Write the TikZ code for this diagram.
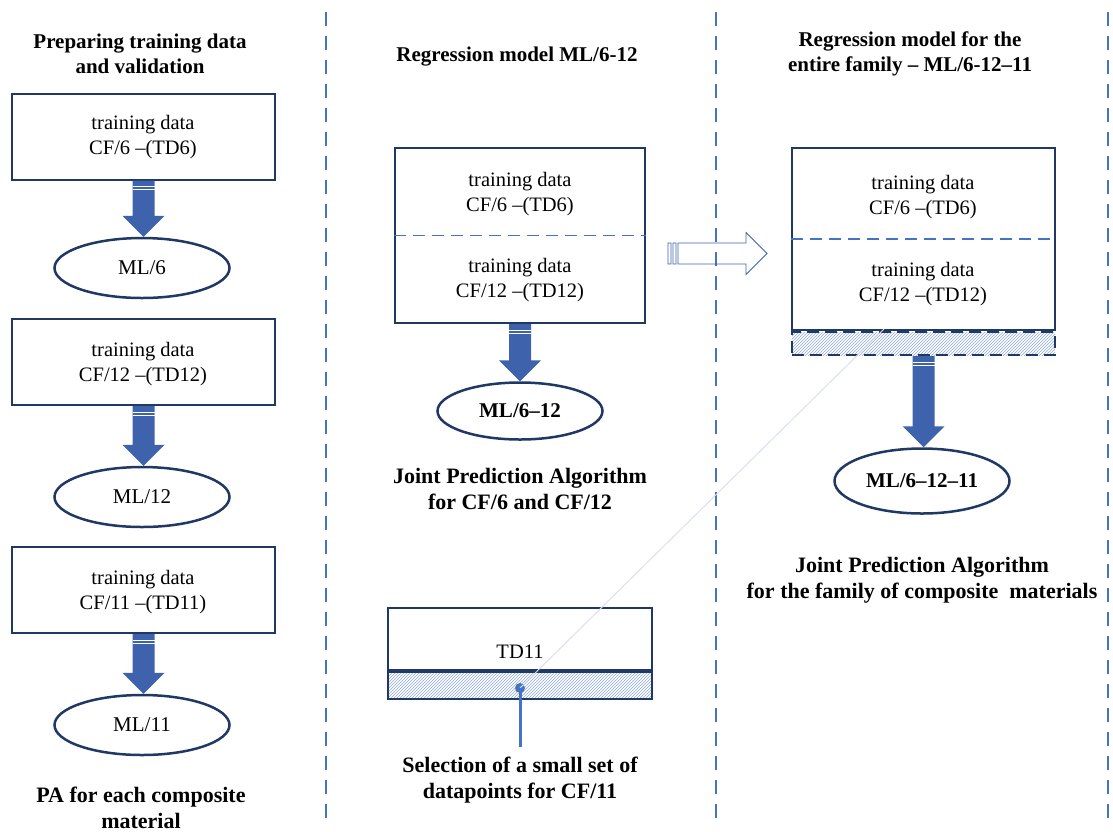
\documentclass[tikz,border=0pt]{standalone}
\usepackage{fontspec}
\setmainfont{Liberation Serif}
\usetikzlibrary{shapes.geometric,patterns,calc}
\definecolor{navy}{RGB}{32,56,100}
\definecolor{arrowblue}{RGB}{63,98,173}
\definecolor{lineblue}{RGB}{68,114,196}
\definecolor{hatchblue}{RGB}{140,168,220}
\definecolor{threadgray}{RGB}{218,224,240}
\tikzstyle{databox}=[draw=navy,line width=2pt,fill=white,minimum width=263,minimum height=86,inner sep=0pt]
\tikzstyle{hatchbox}=[draw=navy,line width=2pt,pattern=north east lines,pattern color=hatchblue,inner sep=0pt]
\tikzstyle{mlnode}=[ellipse,draw=navy,line width=2.5pt,fill=white,minimum width=175,minimum height=60,inner sep=0pt,font=\fontsize{21}{24}\selectfont]
\tikzstyle{bodytxt}=[align=center,inner sep=0pt,font=\fontsize{20.5}{24.5}\selectfont]
\tikzstyle{headtxt}=[align=center,inner sep=0pt,font=\bfseries\fontsize{21}{25}\selectfont]
\tikzstyle{captxt}=[align=center,inner sep=0pt,font=\bfseries\fontsize{22}{25.5}\selectfont]
\tikzstyle{colline}=[lineblue,line width=1.5pt,dash pattern=on 14pt off 10pt]
\tikzstyle{sepline}=[lineblue,line width=1.2pt,dash pattern=on 12pt off 7pt]

% block arrow pointing down, from #1 to #2
\newcommand{\fatarrow}[2]{%
  \fill[arrowblue] let \p1=(#1), \p2=(#2) in
    (\x1-11pt,\y1) -- (\x1+11pt,\y1) -- (\x1+11pt,\y2+21pt) -- (\x1+21pt,\y2+21pt)
    -- (\x1,\y2) -- (\x1-21pt,\y2+21pt) -- (\x1-11pt,\y2+21pt) -- cycle;
  \draw[white,line width=0.6pt] let \p1=(#1) in
    (\x1-11pt,\y1-6pt) -- (\x1+11pt,\y1-6pt) (\x1-11pt,\y1-9pt) -- (\x1+11pt,\y1-9pt);
}
% hollow striped arrow pointing right, from #1 to #2
\newcommand{\hollowarrow}[2]{%
  \draw[arrowblue,line width=0.8pt] let \p1=(#1), \p2=(#2) in
    (\x1+10pt,\y1+10.5pt) -- (\x2-21pt,\y1+10.5pt) -- (\x2-21pt,\y1+21pt) -- (\x2,\y1)
    -- (\x2-21pt,\y1-21pt) -- (\x2-21pt,\y1-10.5pt) -- (\x1+10pt,\y1-10.5pt) -- cycle
    (\x1,\y1+10.5pt) rectangle (\x1+3pt,\y1-10.5pt)
    (\x1+5pt,\y1+10.5pt) rectangle (\x1+8pt,\y1-10.5pt);
}

\begin{document}
\begin{tikzpicture}[x=1pt,y=-1pt]
    \useasboundingbox (0,0) rectangle (1113,831);

    % column separators
    \foreach \xc in {326,716,1108}
    \draw[colline] (\xc,12) -- (\xc,818);

    % headings
    \node[headtxt] (h1) at (140,54) {Preparing training data\\and validation};
    \node[headtxt] (h2) at (517,57) {Regression model ML/6-12};
    \node[headtxt] (h3) at (910,54) {Regression model for the\\entire family -- ML/6-12--11};

    % left column
    \node[databox] (b6) at (143.5,136.5) {};
    \node[bodytxt] (t6) at (143,137) {training data\\CF/6 --(TD6)};
    \node[mlnode] (ml6) at (142,268) {ML/6};
    \node[databox] (b12) at (143.5,362) {};
    \node[bodytxt] (t12) at (143,364) {training data\\CF/12 --(TD12)};
    \node[mlnode] (ml12) at (142,497) {ML/12};
    \node[databox] (b11) at (143.5,590) {};
    \node[bodytxt] (t11) at (143,592) {training data\\CF/11 --(TD11)};
    \node[mlnode] (ml11) at (142,725) {ML/11};
    \node[captxt] (pa) at (141,808) {PA for each composite\\material};

    \fatarrow{b6.south}{ml6.north}
    \fatarrow{b12.south}{ml12.north}
    \fatarrow{b11.south}{ml11.north}

    % middle column
    \node[databox,minimum width=250,minimum height=175] (mb) at (520,235.5) {};
    \draw[sepline] (mb.west) -- (mb.east);
    \node[bodytxt] (mt6) at (520,194) {training data\\CF/6 --(TD6)};
    \node[bodytxt] (mt12) at (520,280) {training data\\CF/12 --(TD12)};
    \node[mlnode,minimum width=165,minimum height=57,font=\bfseries\fontsize{21}{24}\selectfont] (m612) at (520,411) {ML/6--12};
    \fatarrow{mb.south}{m612.north}
    \node[captxt] (jp1) at (520,489) {Joint Prediction Algorithm\\for CF/6 and CF/12};

    \node[databox,minimum width=264,minimum height=62] (td) at (520,639) {};
    \node[bodytxt] (tdl) at (520,652) {TD11};
    \node[hatchbox,minimum width=264,minimum height=27,anchor=north] (tdh) at (td.south) {};
    \node[captxt] (sel) at (520,780) {Selection of a small set of\\datapoints for CF/11};

    % right column
    \node[databox,minimum width=263,minimum height=182] (rb) at (923.5,239) {};
    \draw[sepline] (rb.west) -- (rb.east);
    \node[bodytxt] (rt6) at (923,197) {training data\\CF/6 --(TD6)};
    \node[bodytxt] (rt12) at (923,284) {training data\\CF/12 --(TD12)};
    \node[hatchbox,dash pattern=on 12pt off 6pt,minimum width=263,minimum height=23,anchor=north] (rh) at (rb.south) {};
    \node[mlnode,minimum width=175,minimum height=65,font=\bfseries\fontsize{21}{24}\selectfont] (m1211) at (922,481) {ML/6--12--11};
    \fatarrow{rh.south}{m1211.north}
    \node[captxt] (jp2) at (922,580) {Joint Prediction Algorithm\\for the family of composite~ materials};

    % transfer arrow
    \coordinate (hs) at ([xshift=22pt,yshift=-18pt]mb.east);
    \coordinate (he) at ([xshift=-24pt,yshift=-14.5pt]rb.west);
    \hollowarrow{hs}{he}

    % selected datapoints
    \node[circle,fill=lineblue,minimum size=10,inner sep=0pt] (dot) at (520,688) {};
    \coordinate (rk) at ([xshift=93pt,yshift=2pt]rh.north west);
    \draw[threadgray,line width=1pt] (dot.center) -- (rk);
    \draw[lineblue,line width=3pt,shorten >=10pt] (dot.center) -- (sel.north);
\end{tikzpicture}
\end{document}
